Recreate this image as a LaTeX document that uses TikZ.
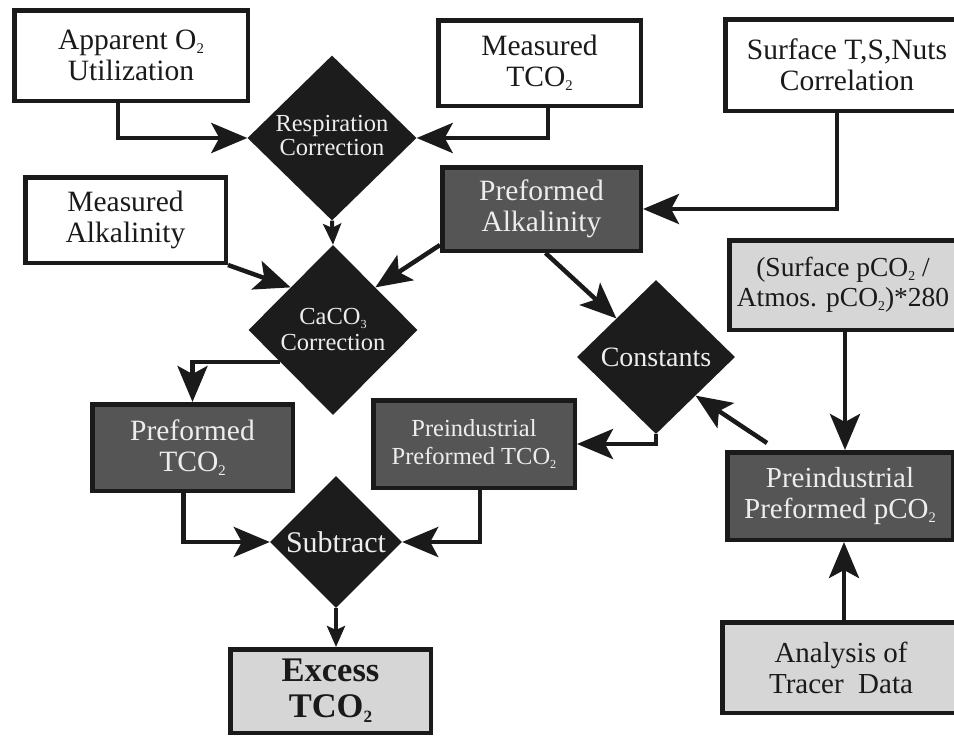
\documentclass[tikz,border=0pt]{standalone}
\usepackage{fontspec}
\setmainfont{Liberation Serif}
\usetikzlibrary{shapes.geometric,arrows.meta,calc}
\definecolor{darkbox}{HTML}{555555}
\definecolor{lightbox}{HTML}{D6D6D6}
\definecolor{dia}{HTML}{1C1C1C}
\definecolor{ink}{HTML}{1A1A1A}
\definecolor{paletext}{HTML}{EDEDED}
\newcommand\sbs[1]{\raisebox{-0.3ex}{\fontsize{0.5em}{0.5em}\selectfont #1}}
\begin{document}
\begin{tikzpicture}[x=1pt,y=-1pt,
 box/.style={draw=ink, line width=4.5pt, rectangle, align=center, inner sep=0pt, font=\fontsize{29.5}{31}\selectfont, text=ink},
 whitebox/.style={box, fill=white},
 darkb/.style={box, fill=darkbox, text=paletext},
 lightb/.style={box, fill=lightbox},
 dmd/.style={diamond, fill=dia, draw=none, inner sep=0pt, align=center, text=paletext},
 conn/.style={draw=ink, line width=4.5pt, -{Stealth[length=36pt,width=30pt,inset=8pt]}},
 sconn/.style={draw=ink, line width=4pt, -{Stealth[length=21pt,width=18pt,inset=4pt]}},
]
\useasboundingbox (0,0) rectangle (954,736);
\fill[white] (0,0) rectangle (954,736);

% boxes
\node[whitebox, minimum width=233.5, minimum height=90.5] (ao) at (131,55.5) {Apparent O\sbs{2}\\Utilization};
\node[whitebox, minimum width=202.5, minimum height=85.5] (mtco) at (539.5,63) {Measured\\TCO\sbs{2}};
\node[whitebox, minimum width=243.5, minimum height=91.5] (stsn) at (847,65) {Surface T,S,Nuts\\Correlation};
\node[whitebox, minimum width=200.5, minimum height=85.5] (malk) at (125.5,220) {Measured\\Alkalinity};
\node[darkb, minimum width=198.5, minimum height=83.5] (palk) at (541.5,209) {Preformed\\Alkalinity};
\node[lightb, minimum width=227.5, minimum height=89.5, font=\fontsize{27.5}{30}\selectfont] (spco) at (843,285) {(Surface pCO\sbs{2} /\\Atmos. pCO\sbs{2})*280};
\node[darkb, minimum width=200.5, minimum height=86.5] (ptco) at (192.5,447.5) {Preformed\\TCO\sbs{2}};
\node[darkb, minimum width=201.5, minimum height=87.5, font=\fontsize{24.5}{28}\selectfont] (pitco) at (474,444) {Preindustrial\\Preformed TCO\sbs{2}};
\node[darkb, minimum width=225.5, minimum height=87.5, font=\fontsize{29}{31}\selectfont] (pipco) at (840,496) {Preindustrial\\Preformed pCO\sbs{2}};
\node[lightb, minimum width=200.5, minimum height=83.5, font=\fontsize{34.5}{36}\selectfont\bfseries] (exc) at (330.5,691) {Excess\\TCO\sbs{2}};
\node[lightb, minimum width=237.5, minimum height=90.5, font=\fontsize{29}{31}\selectfont] (ana) at (841,667.5) {Analysis of\\Tracer~~Data};

% diamonds
\node[dmd, minimum width=169, minimum height=165, font=\fontsize{24.5}{26}\selectfont] (resp) at (332,138) {\raisebox{-5pt}{\begin{tabular}{@{}c@{}}Respiration\\[-2pt]Correction\end{tabular}}};
\node[dmd, minimum width=169, minimum height=170, font=\fontsize{24.5}{26}\selectfont] (caco) at (333,330) {CaCO\sbs{3}\\Correction};
\node[dmd, minimum width=158, minimum height=154, font=\fontsize{28}{30}\selectfont] (const) at (656,357) {Constants};
\node[dmd, minimum width=132, minimum height=132, font=\fontsize{30}{32}\selectfont] (sub) at (336,542) {Subtract};

% connectors
\draw[conn] ([xshift=-13pt]ao.south) |- (resp.west);
\draw[conn] ([xshift=8.5pt]mtco.south) |- (resp.east);
\draw[sconn] (resp.south) -- (caco.north);
\draw[conn] (malk.south east) -- (caco.north west);
\draw[conn] ([yshift=8pt]palk.south west) -- (caco.north east);
\draw[conn] ([xshift=-10pt]stsn.south) |- (palk.east);
\draw[conn] ([xshift=4pt]palk.south) -- (const.north west);
\draw[conn] (caco.211) -| (ptco.north);
\draw[conn] (const.south) |- (pitco.east);
\draw[conn] ([xshift=2pt]spco.south) -- ([xshift=5pt]pipco.north);
\draw[conn] ([xshift=42pt,yshift=7pt]pipco.north west) -- (const.south east);
\draw[conn] ([xshift=3pt]ana.north) -- ([xshift=3pt]ana.north |- pipco.south);
\draw[conn] ([xshift=-9pt]ptco.south) |- (sub.west);
\draw[conn] ([xshift=6pt]pitco.south) |- (sub.east);
\draw[sconn] (sub.south) -- (sub.south |- exc.north);
\end{tikzpicture}
\end{document}
